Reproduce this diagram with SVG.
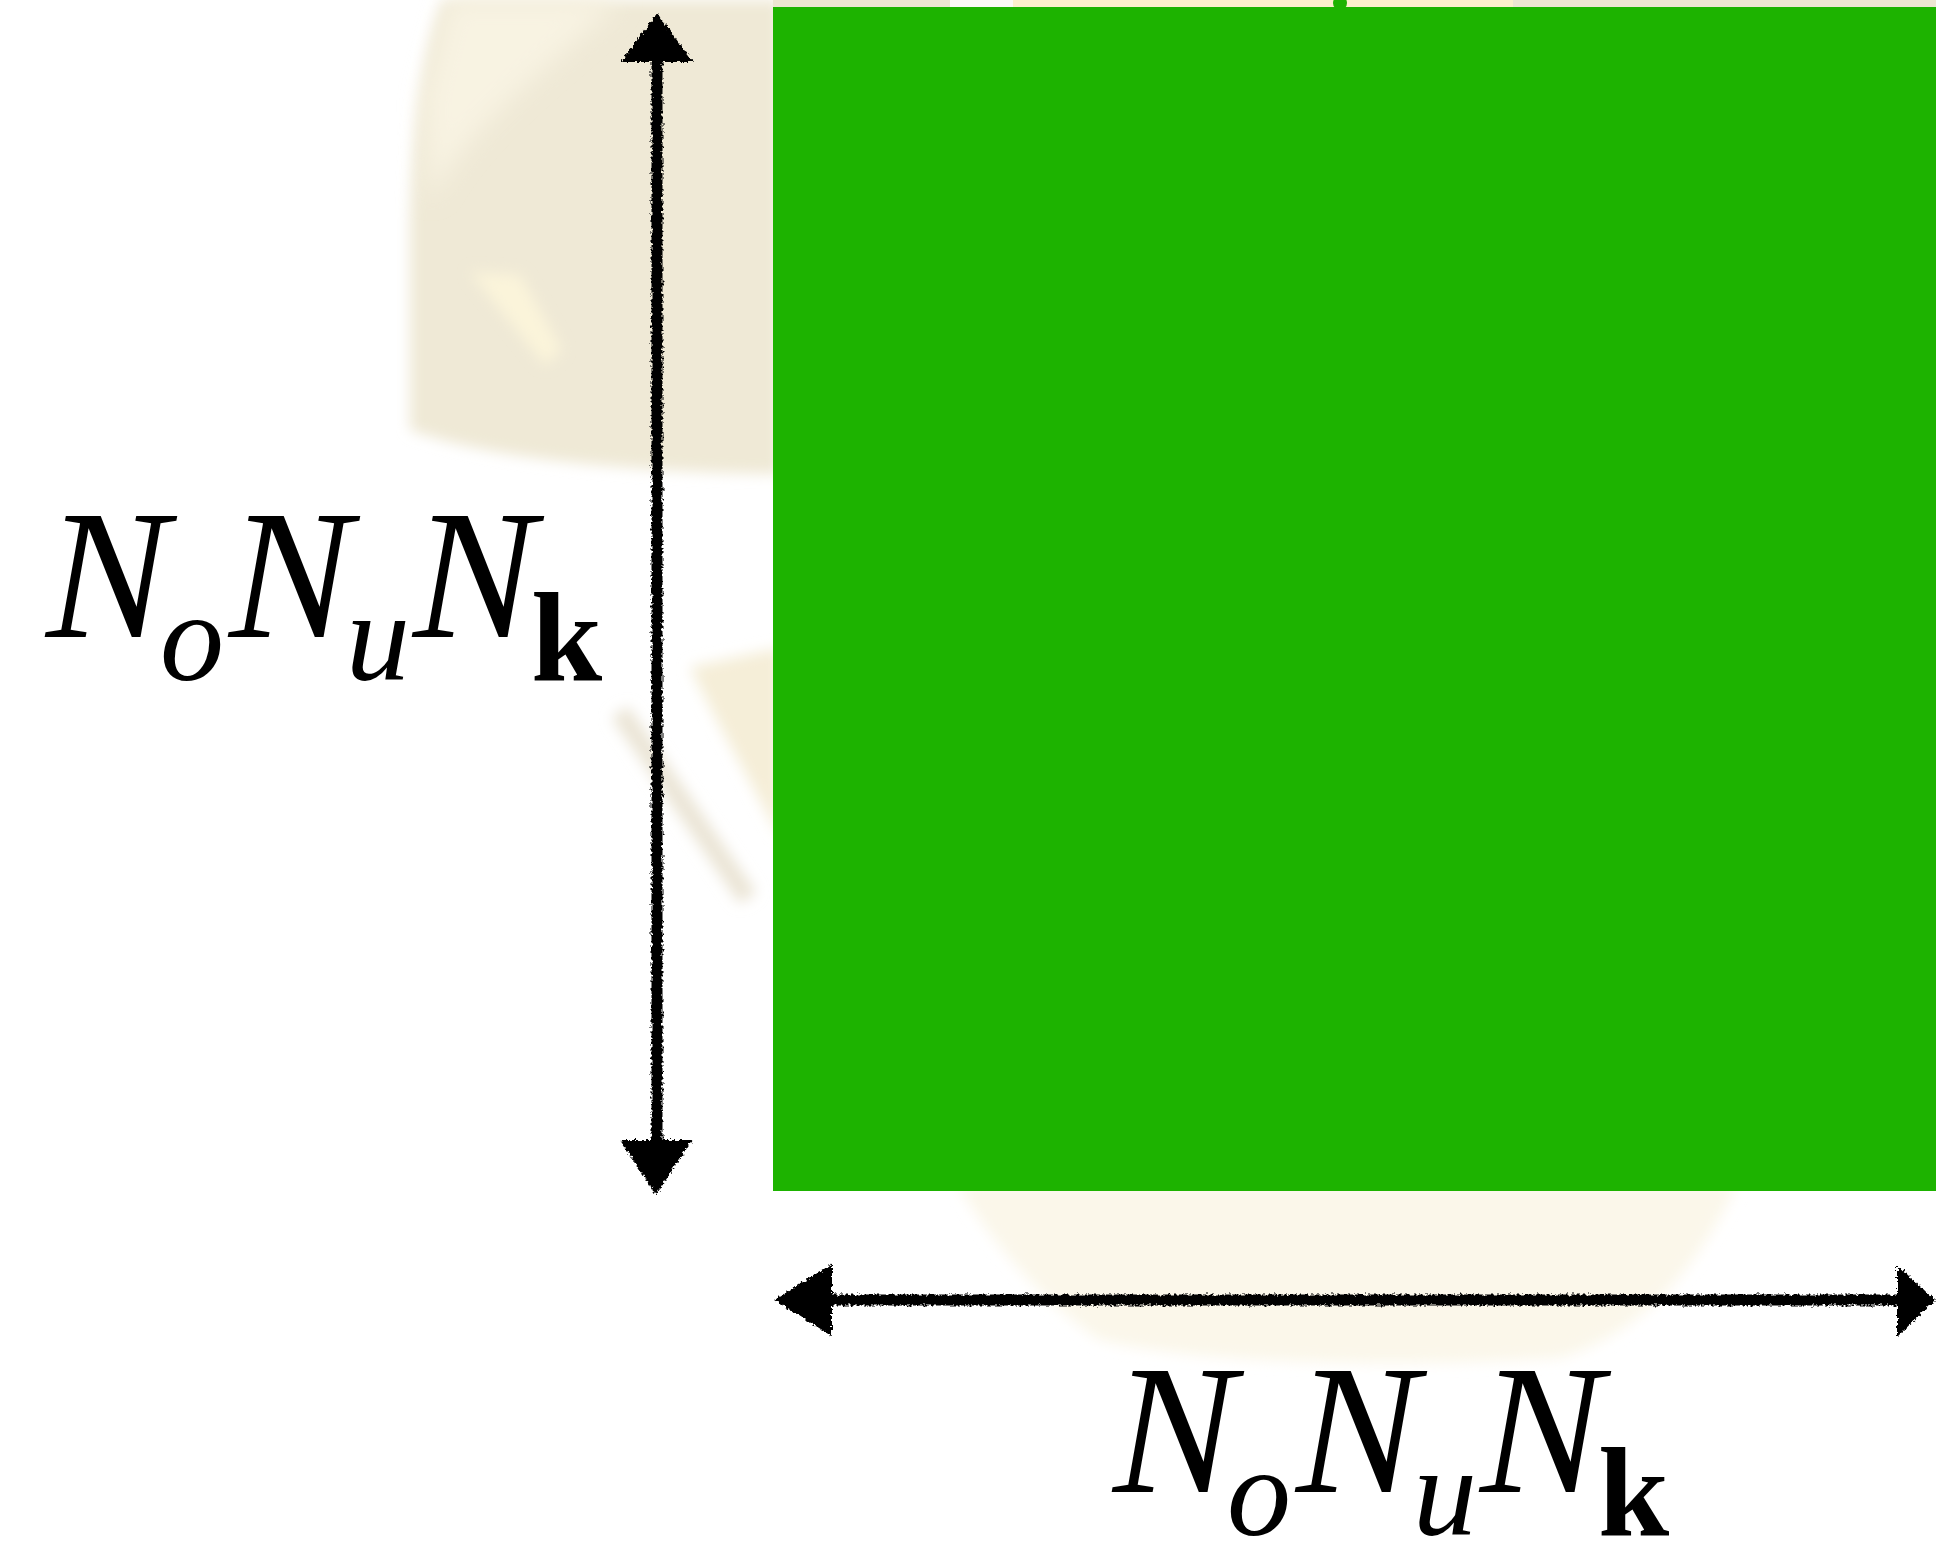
<svg xmlns="http://www.w3.org/2000/svg" width="1936" height="1542" viewBox="0 0 1936 1542">
<style>
.lbl{font-family:"Liberation Serif","Times New Roman",serif;fill:#000}
.big{font-size:184px;font-style:italic}
.sub{font-size:128px;font-style:italic}
.bold{font-size:128px;font-weight:bold;font-style:normal}
.arrow{stroke:#000;stroke-width:11;fill:none}
.head{fill:#000}
</style>
<defs>
<filter id="blur" filterUnits="userSpaceOnUse" x="0" y="0" width="1936" height="1542"><feGaussianBlur stdDeviation="7"/></filter>
<filter id="blur2" filterUnits="userSpaceOnUse" x="0" y="0" width="1936" height="1542"><feGaussianBlur stdDeviation="12"/></filter>
<filter id="rough" filterUnits="userSpaceOnUse" x="0" y="0" width="1936" height="1542">
<feTurbulence type="fractalNoise" baseFrequency="0.35" numOctaves="2" seed="3" result="n"/>
<feDisplacementMap in="SourceGraphic" in2="n" scale="6" xChannelSelector="R" yChannelSelector="G"/>
</filter>
</defs>
<rect width="1936" height="1542" fill="#ffffff"/>
<g id="background">
<path filter="url(#blur)" fill="#efe9d6" d="M443 0 L780 0 L780 474 C650 472 500 462 410 430 L410 220 C412 120 425 40 443 0 Z"/>
<path filter="url(#blur2)" fill="#f8f3e2" d="M450 0 L620 0 C560 60 470 120 430 200 L425 100 Z"/>
<path filter="url(#blur)" fill="#fbf4da" d="M470 272 L520 275 L562 350 L545 365 Z"/>
<path filter="url(#blur)" fill="#f5eed8" d="M690 667 L780 648 L780 838 C750 780 715 720 690 667 Z"/>
<line filter="url(#blur)" x1="620" y1="712" x2="748" y2="898" stroke="#ebe5d6" stroke-width="20"/>
<path filter="url(#blur)" fill="#fbf7ea" d="M958 1185 L1737 1185 C1700 1260 1650 1330 1560 1358 C1400 1368 1200 1364 1100 1340 C1040 1300 990 1240 958 1185 Z"/>
<rect x="773" y="0" width="1163" height="8" fill="#ede6d2"/>
<rect x="950" y="0" width="63" height="8" fill="#fbfaf6"/>
<rect x="1013" y="0" width="500" height="8" fill="#fcf0cc"/>
</g>
<g id="matrix">
<rect x="773" y="7" width="1163" height="1184" fill="#1db300"/>
<circle cx="1340" cy="3" r="7" fill="#1db300"/>
</g>
<g id="connectors" filter="url(#rough)">
<g id="vertical-arrow">
<line class="arrow" x1="657" y1="58" x2="657" y2="1146"/>
<polygon class="head" points="657,13 693,62 621,62"/>
<polygon class="head" points="656,1195 692,1140 620,1140"/>
</g>
<g id="horizontal-arrow">
<line class="arrow" x1="828" y1="1300" x2="1902" y2="1300"/>
<polygon class="head" points="774,1300 832,1264 832,1336"/>
<polygon class="head" points="1935,1300 1897,1265 1897,1337"/>
</g>
</g>
<g id="label-left">
<text class="lbl"><tspan class="big" x="46" y="637">N</tspan><tspan class="sub" x="160" y="680">o</tspan><tspan class="big" x="229" y="637">N</tspan><tspan class="sub" x="346" y="680">u</tspan><tspan class="big" x="413" y="637">N</tspan><tspan class="bold" x="531" y="680">k</tspan></text>
</g>
<g id="label-bottom" transform="translate(1067,855)">
<text class="lbl"><tspan class="big" x="46" y="637">N</tspan><tspan class="sub" x="160" y="680">o</tspan><tspan class="big" x="229" y="637">N</tspan><tspan class="sub" x="346" y="680">u</tspan><tspan class="big" x="413" y="637">N</tspan><tspan class="bold" x="531" y="680">k</tspan></text>
</g>
</svg>
